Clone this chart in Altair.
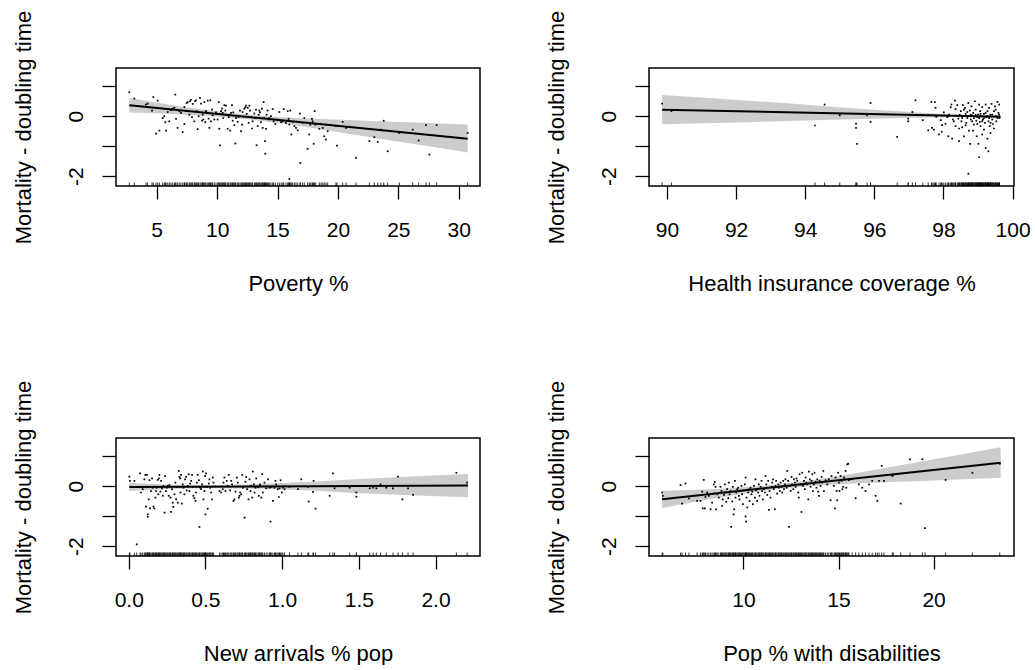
import altair as alt
import pandas as pd

# ---------------- Panel 1: Poverty % ----------------
pov_x = [2.73, 3.15, 4.11, 4.25, 4.72, 5.08, 4.61, 5.22, 4.94, 5.77, 5.71, 5.49, 5.63, 5.91, 6.04, 6.18, 6.32, 6.54, 6.46, 6.60,
         6.73, 6.87, 7.01, 7.15, 7.29, 7.29, 7.42, 7.48, 7.56, 7.70, 7.76, 7.84, 7.92, 7.98, 8.11, 8.17, 8.25, 8.31, 8.39, 8.47,
         8.58, 8.67, 8.75, 8.80, 8.86, 8.94, 9.02, 9.08, 9.22, 9.30, 9.36, 9.44, 9.49, 9.58, 9.63, 9.77, 9.91, 10.04, 10.13, 10.18,
         10.24, 10.32, 10.40, 10.46, 10.51, 10.60, 10.68, 10.73, 10.87, 10.96, 11.07, 11.15, 11.23, 11.29, 11.34, 11.42, 11.51, 11.56, 11.70, 11.78,
         11.89, 11.98, 12.06, 12.11, 12.20, 12.25, 12.34, 12.39, 12.45, 12.53, 12.61, 12.67, 12.72, 12.80, 12.89, 12.94, 13.08, 13.16, 13.22, 13.27,
         13.36, 13.44, 13.49, 13.55, 13.63, 13.71, 13.77, 13.85, 13.91, 13.96, 13.99, 14.05, 14.10, 14.18, 14.27, 14.32, 14.46, 14.60, 14.68, 14.82,
         15.01, 15.15, 15.29, 15.43, 15.51, 15.70, 15.84, 15.92, 15.98, 16.06, 16.14, 16.25, 16.39, 16.53, 16.67, 16.86, 16.89, 17.08, 17.22, 17.49,
         17.63, 17.71, 17.85, 17.91, 17.99, 18.07, 18.13, 18.46, 18.60, 18.74, 18.87, 19.01, 19.15, 19.84, 19.92, 20.39, 20.67, 21.50, 22.60, 23.01,
         23.29, 23.56, 23.79, 24.12, 25.08, 26.19, 26.68, 27.29, 27.57, 28.17, 30.74, 15.98]
pov_y = [0.80, 0.59, 0.39, 0.42, 0.64, 0.52, 0.19, -0.48, -0.58, -0.48, -0.20, -0.06, 0.00, 0.14, -0.17, 0.20, 0.25, 0.72, 0.28, -0.09,
         -0.39, 0.17, 0.11, -0.53, 0.31, -0.26, 0.17, 0.44, 0.47, 0.05, 0.50, 0.55, -0.03, 0.41, -0.17, 0.50, 0.53, 0.17, -0.43, 0.00,
         0.61, 0.42, -0.15, 0.05, -0.11, 0.47, -0.20, 0.17, 0.52, -0.08, -0.39, 0.53, -0.17, 0.22, 0.03, -0.11, 0.13, -0.11, 0.47, -0.42,
         -0.97, 0.17, 0.25, 0.11, -0.06, 0.37, 0.19, 0.35, -0.42, -0.03, -0.48, 0.11, 0.37, -0.15, 0.13, -0.30, -0.91, -0.06, -0.19, -0.03,
         0.19, -0.50, -0.28, 0.14, -0.02, 0.25, 0.30, 0.35, 0.08, 0.28, -0.22, 0.35, 0.19, -0.03, -0.41, -0.17, 0.09, -0.06, 0.22, -0.97,
         -0.33, 0.05, 0.19, 0.13, -0.20, 0.25, -0.39, 0.47, -0.06, -0.83, -1.25, -0.42, 0.05, 0.19, -0.11, -0.06, 0.00, 0.24, -0.17, -0.26,
         -0.13, 0.14, -0.20, -0.17, 0.24, -0.22, 0.17, -0.09, -0.28, 0.19, -0.61, -0.19, -0.33, -0.39, -0.47, 0.09, -1.56, -0.22, -0.06, -1.09,
         -0.61, -0.28, -0.09, -0.17, -0.92, 0.17, -0.28, -0.42, -0.26, -0.39, -0.67, -0.78, -0.50, -0.33, -0.98, -0.19, -0.39, -1.39, -0.83, -0.70,
         -0.86, -0.45, -0.15, -1.17, -0.56, -0.45, -0.81, -0.30, -1.28, -0.30, -0.56, -2.09]
pov_band_x = [2.73, 7.15, 12.12, 17.08, 22.33, 26.46, 30.74]
pov_band_lo = [0.12, 0.06, -0.085, -0.34, -0.68, -0.94, -1.21]
pov_band_hi = [0.61, 0.32, 0.07, -0.07, -0.15, -0.21, -0.28]
pov_fit_x = [2.73, 30.74]
pov_fit_y = [0.37, -0.75]

# ---------------- Panel 2: Health insurance coverage % ----------------
hic_x = [89.86, 90.13, 94.28, 94.56, 95.00, 95.47, 95.47, 95.50, 95.79, 95.89, 95.89, 96.66, 96.98, 96.98, 97.10, 97.19, 97.40, 97.56, 97.65, 97.67,
         97.72, 97.75, 97.77, 97.79, 97.87, 97.92, 97.95, 98.01, 98.06, 98.14, 98.16, 98.21, 98.23, 98.25, 98.30, 98.33, 98.35, 98.40, 98.43, 98.45,
         98.47, 98.50, 98.52, 98.54, 98.56, 98.59, 98.59, 98.62, 98.64, 98.66, 98.69, 98.72, 98.74, 98.76, 98.77, 98.79, 98.81, 98.83, 98.85, 98.86,
         98.88, 98.91, 98.93, 98.95, 98.96, 98.98, 99.00, 99.01, 99.03, 99.03, 99.05, 99.06, 99.07, 99.10, 99.12, 99.12, 99.14, 99.17, 99.17, 99.20,
         99.22, 99.22, 99.24, 99.27, 99.27, 99.30, 99.30, 99.32, 99.34, 99.36, 99.36, 99.39, 99.41, 99.43, 99.46, 99.46, 99.49, 99.51, 99.53, 99.56,
         99.59, 99.61, 99.62, 98.72, 98.54, 98.64, 98.74, 98.83, 98.93, 99.03, 99.12, 99.22, 99.32, 99.41, 99.51, 98.59, 98.69, 98.79, 98.88, 98.98,
         99.07, 99.17, 99.27, 99.36, 99.56, 99.61, 98.45, 98.35, 98.27, 98.11, 97.96]
hic_y = [0.42, 0.17, -0.31, 0.39, 0.03, -0.25, -0.39, -0.92, 0.03, 0.44, -0.19, -0.69, -0.17, -0.08, 0.14, 0.53, -0.13, -0.47, 0.48, -0.39,
         -0.45, 0.47, 0.28, -0.02, -0.61, -0.13, -0.52, 0.13, -0.25, -0.67, 0.05, 0.30, 0.39, -0.75, -0.17, 0.52, 0.24, 0.37, -0.08, -0.83,
         0.05, 0.17, -0.17, -0.37, 0.37, 0.00, -0.67, 0.28, 0.08, -0.22, -0.06, 0.44, -0.48, 0.19, -0.92, -0.11, 0.33, 0.02, -0.48, 0.11,
         -0.28, 0.50, 0.22, -0.15, -0.67, -0.03, 0.05, -0.92, 0.39, -1.37, -0.19, 0.17, -0.33, 0.00, 0.30, -0.61, -0.11, 0.08, -0.45, -0.22,
         0.39, -1.06, -0.03, 0.17, -0.75, -0.17, -1.17, 0.28, -0.33, 0.05, -0.56, 0.41, -0.11, -0.26, 0.17, -0.41, 0.33, 0.00, -0.17, 0.48,
         0.11, 0.39, -0.06, -1.92, -0.06, -0.30, 0.00, -0.17, 0.05, -0.06, -0.17, 0.11, -0.06, 0.05, 0.22, 0.22, 0.14, 0.05, -0.06, -0.26,
         0.08, -0.06, 0.00, -0.22, -0.06, 0.05, -0.41, -0.33, -0.11, -0.03, -0.30]
hic_band_x = [89.86, 92.37, 94.78, 97.19, 98.78, 99.65]
hic_band_lo = [-0.27, -0.20, -0.12, -0.05, -0.03, -0.07]
hic_band_hi = [0.71, 0.52, 0.32, 0.13, 0.03, 0.02]
hic_fit_x = [89.86, 99.65]
hic_fit_y = [0.22, -0.02]

# ---------------- Panel 3: New arrivals % pop ----------------
arr_x = [0.004, 0.008, 0.037, 0.052, 0.074, 0.080, 0.091, 0.102, 0.108, 0.113, 0.119, 0.124, 0.124, 0.130, 0.135, 0.139, 0.145, 0.152, 0.156, 0.161,
         0.167, 0.174, 0.178, 0.182, 0.189, 0.193, 0.196, 0.200, 0.206, 0.211, 0.217, 0.222, 0.226, 0.233, 0.237, 0.243, 0.248, 0.254, 0.261, 0.265,
         0.272, 0.276, 0.283, 0.287, 0.291, 0.298, 0.304, 0.309, 0.315, 0.320, 0.326, 0.330, 0.335, 0.337, 0.341, 0.346, 0.352, 0.357, 0.363, 0.367,
         0.374, 0.378, 0.385, 0.391, 0.396, 0.400, 0.407, 0.413, 0.417, 0.422, 0.428, 0.435, 0.439, 0.444, 0.450, 0.457, 0.461, 0.465, 0.472, 0.478,
         0.483, 0.487, 0.494, 0.498, 0.500, 0.504, 0.509, 0.515, 0.522, 0.526, 0.531, 0.537, 0.544, 0.548, 0.552, 0.592, 0.602, 0.613, 0.618, 0.624,
         0.631, 0.639, 0.646, 0.652, 0.661, 0.668, 0.674, 0.683, 0.689, 0.696, 0.705, 0.711, 0.718, 0.722, 0.726, 0.733, 0.740, 0.744, 0.755, 0.761,
         0.766, 0.772, 0.781, 0.787, 0.794, 0.798, 0.805, 0.809, 0.816, 0.820, 0.827, 0.831, 0.842, 0.848, 0.853, 0.857, 0.864, 0.870, 0.874, 0.885,
         0.896, 0.907, 0.918, 0.924, 0.929, 0.940, 0.950, 0.957, 0.961, 0.972, 0.979, 0.983, 0.990, 0.998, 1.005, 1.016, 1.048, 1.103, 1.125, 1.168,
         1.173, 1.201, 1.205, 1.218, 1.310, 1.331, 1.342, 1.440, 1.484, 1.484, 1.571, 1.593, 1.614, 1.642, 1.679, 1.723, 1.756, 1.784, 1.821, 1.854,
         2.136, 2.206]
arr_y = [0.32, 0.18, 0.18, -1.94, 0.43, -0.21, -0.10, 0.23, 0.38, -0.68, 0.38, -0.94, -1.02, -0.44, 0.20, -0.74, -0.16, 0.26, -0.05, -0.68,
         -0.74, -0.38, -0.16, -0.05, 0.21, -0.27, 0.26, 0.38, -0.18, 0.18, -0.07, -0.32, 0.01, -0.88, 0.34, -0.16, -0.05, 0.01, -0.32, 0.04,
         -0.38, -0.86, -0.10, -0.55, -0.69, -0.27, 0.12, -0.44, -0.02, -0.55, 0.51, 0.31, 0.26, -0.21, 0.38, -0.58, 0.06, -0.05, -0.27, 0.23,
         0.31, -0.14, 0.01, 0.40, -0.16, 0.09, 0.18, 0.38, -0.02, -0.32, -0.40, -0.49, -0.21, 0.12, 0.38, 0.20, -1.36, -0.05, -0.10, 0.06,
         0.49, -0.44, -0.16, 0.34, -0.94, 0.43, -0.02, -0.75, 0.09, 0.23, -0.05, -0.21, -0.44, 0.29, 0.12, -0.16, -0.21, -0.10, 0.12, 0.29,
         -0.16, 0.18, 0.01, 0.38, -0.14, 0.18, 0.06, -0.49, -0.44, -0.18, 0.29, 0.12, -0.38, -0.32, -0.21, -0.27, 0.38, -0.05, -1.05, 0.15,
         0.31, -0.10, -0.44, 0.23, -0.16, 0.01, -0.38, 0.49, 0.06, -0.21, -0.05, 0.26, -0.02, -0.32, 0.01, 0.06, -0.38, 0.40, -0.21, 0.12,
         -0.07, 0.23, -0.05, -1.18, -0.02, -0.49, -0.05, 0.18, 0.06, -0.10, -0.36, -0.07, 0.20, -0.21, -0.05, -0.10, -0.02, -0.10, 0.23, -0.02,
         -0.51, -0.19, 0.18, -0.75, -0.32, 0.43, -0.07, -0.05, -0.21, -0.35, -0.07, -0.05, -0.07, 0.06, -0.05, -0.07, 0.32, -0.44, -0.07, -0.29,
         0.45, 0.12]
arr_band_x = [0.004, 0.504, 1.005, 1.549, 2.212]
arr_band_lo = [-0.16, -0.07, -0.11, -0.24, -0.37]
arr_band_hi = [0.11, 0.04, 0.11, 0.25, 0.41]
arr_fit_x = [0.004, 2.212]
arr_fit_y = [-0.024, 0.02]

# ---------------- Panel 4: Pop % with disabilities ----------------
dis_x = [5.72, 5.76, 6.69, 6.77, 6.95, 7.13, 7.56, 7.74, 7.83, 7.86, 7.91, 7.97, 8.00, 8.09, 8.18, 8.27, 8.35, 8.44, 8.49, 8.53,
         8.56, 8.62, 8.70, 8.79, 8.84, 8.88, 8.91, 8.97, 9.02, 9.04, 9.09, 9.14, 9.20, 9.23, 9.27, 9.32, 9.35, 9.41, 9.44, 9.48,
         9.51, 9.55, 9.58, 9.62, 9.67, 9.72, 9.76, 9.79, 9.84, 9.90, 9.93, 9.97, 10.02, 10.07, 10.11, 10.11, 10.14, 10.16, 10.20, 10.25,
         10.28, 10.32, 10.37, 10.42, 10.46, 10.49, 10.55, 10.60, 10.63, 10.67, 10.72, 10.77, 10.81, 10.84, 10.90, 10.95, 10.98, 11.02, 11.07, 11.13,
         11.16, 11.20, 11.25, 11.30, 11.34, 11.37, 11.42, 11.48, 11.51, 11.55, 11.60, 11.65, 11.69, 11.72, 11.77, 11.83, 11.86, 11.91, 11.95, 12.00,
         12.04, 12.09, 12.13, 12.18, 12.21, 12.27, 12.30, 12.35, 12.39, 12.44, 12.48, 12.53, 12.56, 12.62, 12.65, 12.70, 12.74, 12.79, 12.83, 12.88,
         12.91, 12.95, 13.00, 13.05, 13.09, 13.13, 13.18, 13.23, 13.27, 13.30, 13.35, 13.41, 13.44, 13.49, 13.53, 13.58, 13.62, 13.65, 13.70, 13.74,
         13.79, 13.84, 13.88, 13.93, 13.97, 14.00, 14.05, 14.11, 14.14, 14.20, 14.23, 14.32, 14.41, 14.49, 14.58, 14.63, 14.67, 14.76, 14.81, 14.84,
         14.90, 14.93, 14.98, 15.02, 15.05, 15.11, 15.16, 15.20, 15.25, 15.28, 15.34, 15.37, 15.41, 15.46, 15.51, 15.55, 15.72, 15.90, 16.07, 16.25,
         16.42, 16.60, 16.77, 16.95, 17.04, 17.13, 17.27, 17.39, 17.83, 17.88, 18.27, 18.76, 19.41, 19.55, 20.63, 22.04, 23.48]
dis_y = [-0.21, -0.32, 0.04, -0.58, 0.09, -0.41, -0.49, -0.49, -0.18, -0.74, 0.21, -0.74, -0.36, -0.21, -0.32, -0.77, -0.55, 0.06, 0.14, -0.02,
         -0.77, -0.27, -0.38, -0.02, -0.16, -0.66, -0.44, -0.29, 0.06, -0.21, -0.52, -0.10, -0.40, 0.12, -0.27, -0.16, -1.36, -0.51, -0.02, -0.94,
         -0.77, 0.18, -0.38, -0.21, -0.10, -0.05, -0.32, -0.44, -0.16, 0.01, -0.27, -0.60, -0.14, 0.06, 0.29, -1.01, -1.18, -0.38, -0.71, -0.21,
         -0.10, -0.49, -0.05, -0.27, -0.18, -0.60, 0.01, -0.38, 0.23, -0.14, -0.49, -0.21, 0.06, -0.32, -0.02, 0.18, -0.16, -0.44, -0.10, -0.21,
         0.34, 0.06, -0.29, 0.18, -0.79, -0.16, -0.38, -0.02, 0.12, 0.23, -0.10, -0.77, 0.01, 0.18, -0.25, 0.06, -0.05, -0.16, 0.12, -0.02,
         -0.21, 0.18, -0.10, 0.06, 0.23, -0.05, 0.51, 0.18, -1.36, 0.01, -0.16, 0.31, 0.06, -0.10, 0.23, 0.12, -0.02, 0.26, 0.18, -0.21,
         -0.38, 0.40, 0.06, -0.86, 0.45, 0.01, 0.18, -0.10, 0.29, 0.12, 0.06, -0.44, 0.49, 0.23, -0.02, 0.18, 0.40, -0.16, 0.06, 0.45,
         0.15, -0.05, 0.23, -0.18, -0.32, 0.18, 0.01, 0.31, 0.12, 0.51, -0.16, 0.20, 0.06, 0.23, -0.47, 0.34, 0.18, 0.01, -0.74, 0.29,
         -0.16, -0.47, 0.45, 0.12, -0.16, 0.34, 0.18, -0.10, -0.02, 0.29, 0.23, 0.51, -0.05, 0.73, 0.75, 0.20, 0.23, -0.40, 0.06, -0.05,
         -0.16, 0.06, 0.18, -0.32, -0.49, 0.18, 0.68, 0.18, 0.34, 0.38, -0.58, 0.90, 0.90, -1.40, 0.21, 0.45, 0.75]
dis_band_x = [5.72, 8.53, 12.04, 15.55, 19.05, 23.53]
dis_band_lo = [-0.73, -0.40, -0.08, 0.08, 0.17, 0.28]
dis_band_hi = [-0.15, -0.09, 0.08, 0.40, 0.79, 1.30]
dis_fit_x = [5.72, 23.53]
dis_fit_y = [-0.436, 0.787]

Y_DOMAIN = [-2.33, 1.61]
Y_TICKS = [-2, -1, 0, 1]
FONT = "Liberation Sans"
H = 118


def panel(xs, ys, bx, blo, bhi, fx, fy, dom, ticks, title, width, fmt=None):
    pts = pd.DataFrame({"x": xs, "y": ys})
    band = pd.DataFrame({"x": bx, "lo": blo, "hi": bhi})
    fit = pd.DataFrame({"x": fx, "y": fy})

    axis_kw = dict(
        values=ticks, title=title, grid=False, domain=False,
        tickSize=13, tickWidth=1.3, tickColor="black",
        labelFont=FONT, labelFontSize=21, labelColor="black",
        labelBaseline="alphabetic", labelPadding=37, labelFlush=False,
        labelOverlap=False,
        titleFont=FONT, titleFontSize=22, titleFontWeight="normal",
        titleColor="black", titleBaseline="alphabetic", titleY=104,
    )
    if fmt:
        axis_kw["format"] = fmt
    xaxis = alt.Axis(**axis_kw)
    yaxis = alt.Axis(
        values=Y_TICKS, title="Mortality - doubling time", grid=False, domain=False,
        tickSize=14, tickWidth=1.3, tickColor="black",
        labelFont=FONT, labelFontSize=21, labelColor="black",
        labelAngle=270, labelAlign="center", labelBaseline="alphabetic",
        labelPadding=20, labelOverlap=False,
        labelExpr="datum.value == 0 ? '0' : (datum.value == -2 ? '-2' : '')",
        titleFont=FONT, titleFontSize=22, titleFontWeight="normal",
        titleColor="black", titleAngle=270, titleBaseline="alphabetic",
        titleAlign="center", titleX=-86, titleY=H / 2,
    )
    xs_ = alt.Scale(domain=dom, nice=False, zero=False)
    ys_ = alt.Scale(domain=Y_DOMAIN, nice=False, zero=False)

    band_l = alt.Chart(band).mark_area(color="#cccccc", opacity=1, interpolate="monotone").encode(
        x=alt.X("x:Q", scale=xs_, axis=xaxis),
        y=alt.Y("lo:Q", scale=ys_, axis=yaxis),
        y2="hi:Q",
    )
    pts_l = alt.Chart(pts).mark_square(size=3, color="black", opacity=1).encode(
        x=alt.X("x:Q", scale=xs_, axis=xaxis),
        y=alt.Y("y:Q", scale=ys_, axis=yaxis),
    )
    fit_l = alt.Chart(fit).mark_line(color="black", strokeWidth=2).encode(
        x=alt.X("x:Q", scale=xs_, axis=xaxis),
        y=alt.Y("y:Q", scale=ys_, axis=yaxis),
    )
    rug_l = alt.Chart(pts).mark_rule(color="black", strokeWidth=0.8).encode(
        x=alt.X("x:Q", scale=xs_, axis=xaxis),
        y=alt.value(H - 3.5),
        y2=alt.value(H),
    )
    return alt.layer(band_l, pts_l, fit_l, rug_l).properties(width=width, height=H)


p1 = panel(pov_x, pov_y, pov_band_x, pov_band_lo, pov_band_hi, pov_fit_x, pov_fit_y,
           [1.63, 31.76], [5, 10, 15, 20, 25, 30], "Poverty %", 364)
p2 = panel(hic_x, hic_y, hic_band_x, hic_band_lo, hic_band_hi, hic_fit_x, hic_fit_y,
           [89.48, 100.04], [90, 92, 94, 96, 98, 100], "Health insurance coverage %", 365)
p3 = panel(arr_x, arr_y, arr_band_x, arr_band_lo, arr_band_hi, arr_fit_x, arr_fit_y,
           [-0.083, 2.29], [0.0, 0.5, 1.0, 1.5, 2.0], "New arrivals % pop", 364, fmt=".1f")
p4 = panel(dis_x, dis_y, dis_band_x, dis_band_lo, dis_band_hi, dis_fit_x, dis_fit_y,
           [5.03, 24.23], [10, 15, 20], "Pop % with disabilities", 365)

chart = alt.concat(
    p1, p2, p3, p4, columns=2,
    spacing={"row": 252, "column": 169}, bounds="flush",
).properties(
    padding={"left": 11, "top": 9, "right": 0, "bottom": 0},
    background="white",
).configure_view(stroke="black", strokeWidth=1.5).resolve_scale(x="independent")

chart.save("out.html", embed_options={"renderer": "svg", "actions": False})
